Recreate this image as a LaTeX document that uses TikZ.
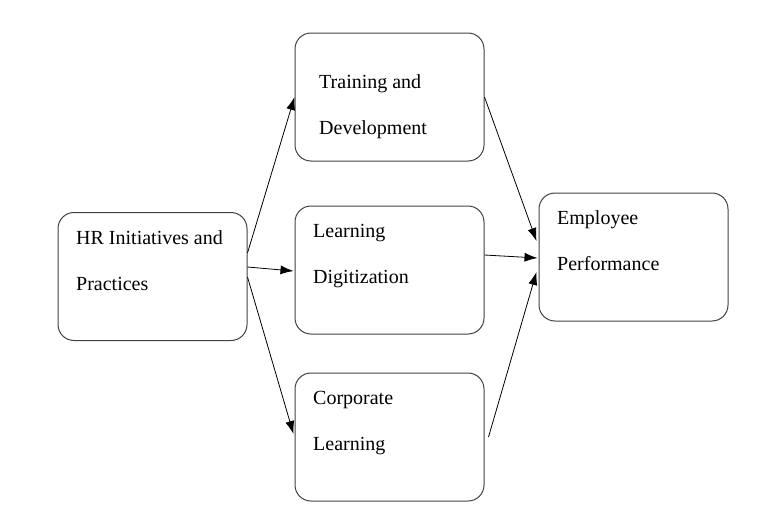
\documentclass[tikz,border=0pt]{standalone}
\usepackage{fontspec}
\setmainfont{Liberation Serif}
\usetikzlibrary{arrows.meta,positioning}
\tikzset{
	box/.style = {draw=black!75, line width=1pt, rounded corners=16pt,
		minimum width=189pt, minimum height=128pt, inner sep=0pt},
	txt/.style = {inner sep=0pt, align=left, font=\fontsize{20}{46}\selectfont},
	link/.style = {->, line width=0.8pt}
}
\begin{document}
\begin{tikzpicture}[x=1pt, y=-1pt, >={Latex[length=13pt,width=9pt]}]
\useasboundingbox (0,0) rectangle (761,525);

% boxes
\node[box] (hr) at (152.5,276.5) {};
\node[box] (tr) at (389.5,97) {};
\node[box] (ld) at (389.5,270) {};
\node[box] (co) at (389.5,437) {};
\node[box] (em) at (633.5,257) {};

% texts (base = last line)
\node[txt, anchor=base west] (hrtxt) at (76,290) {HR Initiatives and\\Practices};
\node[txt, anchor=base west] (trtxt) at (319,134) {Training and\\Development};
\node[txt, anchor=base west] (ldtxt) at (313,283) {Learning\\Digitization};
\node[txt, anchor=base west] (cotxt) at (313,450) {Corporate\\Learning};
\node[txt, anchor=base west] (emtxt) at (557,270) {Employee\\Performance};

% arrows
\draw[link] ([yshift=23.5pt]hr.east) -- (tr.west);
\draw[link] ([yshift=9.5pt]hr.east) -- ([xshift=-1pt,yshift=-1pt]ld.west);
\draw[link] ([yshift=-0.5pt]hr.east) -- ([xshift=-1pt,yshift=3pt]co.west);
\draw[link] (tr.east) -- ([xshift=-2pt,yshift=16pt]em.west);
\draw[link] ([yshift=15pt]ld.east) -- ([xshift=-1pt,yshift=-1pt]em.west);
\draw[link] ([xshift=4pt]co.east) -- ([xshift=-2pt,yshift=-15pt]em.west);
\end{tikzpicture}
\end{document}
